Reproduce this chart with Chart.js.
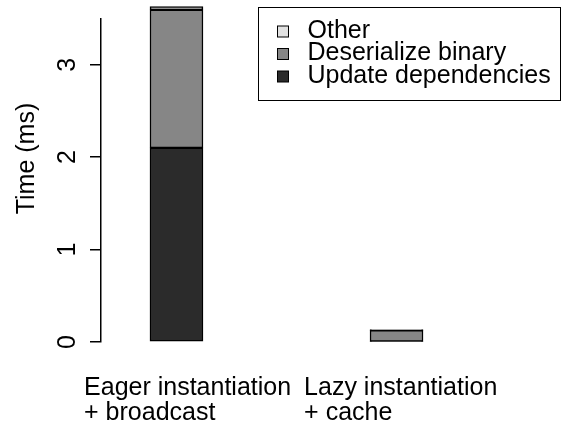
<!DOCTYPE html>
<html>
<head>
<meta charset="utf-8">
<script src="https://cdn.jsdelivr.net/npm/chart.js@4"></script>
<style>
  html, body { margin: 0; padding: 0; background: #ffffff; }
  canvas { display: block; }
</style>
</head>
<body>
<canvas id="c" width="562" height="423"></canvas>
<script>
// ---- data ----
const categories = [
  ["Eager instantiation", "+ broadcast"],
  ["Lazy instantiation", "+ cache"]
];
const seriesNames = ["Update dependencies", "Deserialize binary", "Other"];
const updateDependencies = [2.10, 0.005];
const deserializeBinary = [1.495, 0.12];
const otherTime = [0.035, 0.01];
const yTicks = [0, 1, 2, 3];
const yTitle = "Time (ms)";

// ---- style ----
const FONT = "'Liberation Sans', Arial, Helvetica, sans-serif";
const colors = ["#2b2b2b", "#868686", "#e2e2e2"];
const labelShift = 0.42;

function pts(arr) { return arr.map((v, i) => ({ x: i, y: v })); }

const seriesValues = [updateDependencies, deserializeBinary, otherTime];

const datasets = seriesNames.map((name, k) => ({
  label: name,
  data: pts(seriesValues[k]),
  backgroundColor: colors[k],
  borderColor: "#000000",
  borderWidth: 1.5,
  borderSkipped: false,
  barThickness: 53,
  clip: false
}));

const overlayPlugin = {
  id: "overlay",
  afterDraw(chart) {
    const ctx = chart.ctx;
    const area = chart.chartArea;
    ctx.save();
    // y-axis title
    ctx.font = "25px " + FONT;
    ctx.fillStyle = "#000";
    ctx.translate(area.left - 74, area.top + 140);
    ctx.rotate(-Math.PI / 2);
    ctx.textAlign = "center";
    ctx.textBaseline = "middle";
    ctx.fillText(yTitle, 0, 0);
    ctx.restore();

    // legend box
    ctx.save();
    const bx = area.left + 157.5, by = 7.5, bw = 302, bh = 93;
    ctx.strokeStyle = "#000";
    ctx.lineWidth = 1;
    ctx.fillStyle = "#fff";
    ctx.fillRect(bx, by, bw, bh);
    ctx.strokeRect(bx, by, bw, bh);
    ctx.font = "25px " + FONT;
    ctx.textAlign = "left";
    ctx.textBaseline = "middle";
    const ds = chart.data.datasets.slice().reverse();
    ds.forEach((d, i) => {
      const cy = by + 23.5 + i * 22.5;
      ctx.fillStyle = d.backgroundColor;
      ctx.fillRect(bx + 19, cy - 5, 11, 11);
      ctx.strokeStyle = "#000";
      ctx.lineWidth = 1;
      ctx.strokeRect(bx + 19, cy - 5, 11, 11);
      ctx.fillStyle = "#000";
      ctx.fillText(d.label, bx + 49, cy);
    });
    ctx.restore();
  }
};

new Chart(document.getElementById("c"), {
  type: "bar",
  data: { datasets },
  options: {
    responsive: false,
    animation: false,
    devicePixelRatio: 1,
    layout: { padding: { top: 18.5, right: 22, left: 0, bottom: 0 } },
    plugins: { legend: { display: false }, tooltip: { enabled: false } },
    scales: {
      x: {
        type: "linear",
        stacked: true,
        offset: false,
        min: -0.343,
        max: 1.652,
        grid: { display: false },
        border: { display: false },
        afterFit(s) { s.height = 81; s.paddingLeft = 0; s.paddingRight = 0; },
        afterBuildTicks(s) {
          s.ticks = categories.map((c, i) => ({ value: i - labelShift }));
        },
        ticks: {
          autoSkip: false,
          maxRotation: 0,
          minRotation: 0,
          align: "start",
          padding: 25.5,
          color: "#000",
          font: { family: FONT, size: 25, lineHeight: 1.0 },
          callback: (v, idx) => categories[idx]
        }
      },
      y: {
        stacked: true,
        min: 0,
        max: 3.5,
        afterFit(s) { s.width = 101; s.paddingTop = 0; s.paddingBottom = 0; },
        afterBuildTicks(s) {
          s.ticks = yTicks.map(v => ({ value: v }));
        },
        grid: {
          drawOnChartArea: false,
          drawTicks: true,
          tickLength: 11,
          color: "#000",
          lineWidth: 1.5
        },
        border: { display: true, color: "#000", width: 1.5 },
        ticks: {
          minRotation: 90,
          maxRotation: 90,
          crossAlign: "center",
          padding: 15,
          color: "#000",
          font: { family: FONT, size: 25 }
        }
      }
    }
  },
  plugins: [overlayPlugin]
});
</script>
</body>
</html>
